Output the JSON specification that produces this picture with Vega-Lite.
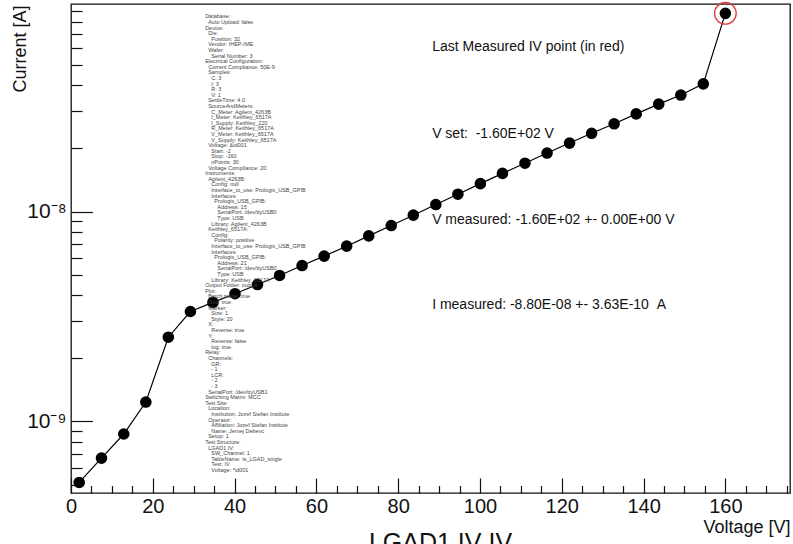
{
  "$schema": "https://vega.github.io/schema/vega-lite/v6.json",
  "width": 719,
  "height": 489,
  "autosize": "none",
  "padding": {"left": 71, "top": 4, "right": 3, "bottom": 51},
  "background": "white",
  "config": {
    "view": {"stroke": "#111", "strokeWidth": 1.3},
    "font": "Liberation Sans"
  },
  "title": {
    "text": "LGAD1 IV IV",
    "orient": "bottom",
    "anchor": "middle",
    "frame": "group",
    "font": "Liberation Sans",
    "fontSize": 25,
    "fontWeight": "normal",
    "color": "#111",
    "baseline": "top",
    "offset": -5,
    "dx": 10
  },
  "resolve": {"axis": {"x": "independent", "y": "independent"}},
  "datasets": {
    "iv": [
      {"V": 2.0, "I": 5.12e-10},
      {"V": 7.45, "I": 6.69e-10},
      {"V": 12.9, "I": 8.71e-10},
      {"V": 18.3, "I": 1.237e-9},
      {"V": 23.8, "I": 2.52e-9},
      {"V": 29.2, "I": 3.34e-9},
      {"V": 34.7, "I": 3.69e-9},
      {"V": 40.1, "I": 4.06e-9},
      {"V": 45.6, "I": 4.49e-9},
      {"V": 51.0, "I": 4.96e-9},
      {"V": 56.5, "I": 5.53e-9},
      {"V": 61.9, "I": 6.13e-9},
      {"V": 67.4, "I": 6.84e-9},
      {"V": 72.8, "I": 7.66e-9},
      {"V": 78.3, "I": 8.58e-9},
      {"V": 83.7, "I": 9.61e-9},
      {"V": 89.2, "I": 1.08e-8},
      {"V": 94.6, "I": 1.21e-8},
      {"V": 100.1, "I": 1.359e-8},
      {"V": 105.5, "I": 1.52e-8},
      {"V": 111.0, "I": 1.70e-8},
      {"V": 116.4, "I": 1.90e-8},
      {"V": 121.9, "I": 2.12e-8},
      {"V": 127.3, "I": 2.36e-8},
      {"V": 132.8, "I": 2.62e-8},
      {"V": 138.2, "I": 2.92e-8},
      {"V": 143.7, "I": 3.25e-8},
      {"V": 149.1, "I": 3.59e-8},
      {"V": 154.6, "I": 4.06e-8},
      {"V": 160.0, "I": 8.8e-8}
    ],
    "notes": [
      {"V": 88.3, "I": 6.065e-8, "label": "Last Measured IV point (in red)"},
      {"V": 88.3, "I": 2.344e-8, "label": "V set:\u00a0\u00a0-1.60E+02 V"},
      {"V": 88.3, "I": 9.13e-9, "label": "V measured: -1.60E+02 +- 0.00E+00 V"},
      {"V": 88.3, "I": 3.594e-9, "label": "I measured: -8.80E-08 +- 3.63E-10\u00a0\u00a0A"}
    ],
    "meta": [
      {"V": 32.8, "I": 8.69e-8, "label": "Database:\n\u200d\u00a0\u00a0Auto Upload: false\nDevice:\n\u200d\u00a0\u00a0Die:\n\u200d\u00a0\u00a0\u00a0\u00a0Position: 32\n\u200d\u00a0\u00a0Vendor: IHEP-IME\n\u200d\u00a0\u00a0Wafer:\n\u200d\u00a0\u00a0\u00a0\u00a0Serial Number: 3\nElectrical Configuration:\n\u200d\u00a0\u00a0Current Compliance: 50E-9\n\u200d\u00a0\u00a0Samples:\n\u200d\u00a0\u00a0\u00a0\u00a0C: 3\n\u200d\u00a0\u00a0\u00a0\u00a0I: 3\n\u200d\u00a0\u00a0\u00a0\u00a0R: 3\n\u200d\u00a0\u00a0\u00a0\u00a0V: 1\n\u200d\u00a0\u00a0SettleTime: 4.0\n\u200d\u00a0\u00a0SourceAndMeters:\n\u200d\u00a0\u00a0\u00a0\u00a0C_Meter: Agilent_4263B\n\u200d\u00a0\u00a0\u00a0\u00a0I_Meter: Keithley_6517A\n\u200d\u00a0\u00a0\u00a0\u00a0I_Supply: Keithley_220\n\u200d\u00a0\u00a0\u00a0\u00a0R_Meter: Keithley_6517A\n\u200d\u00a0\u00a0\u00a0\u00a0V_Meter: Keithley_6517A\n\u200d\u00a0\u00a0\u00a0\u00a0V_Supply: Keithley_6517A\n\u200d\u00a0\u00a0Voltage: &id001\n\u200d\u00a0\u00a0\u00a0\u00a0Start: -2\n\u200d\u00a0\u00a0\u00a0\u00a0Stop: -160\n\u200d\u00a0\u00a0\u00a0\u00a0nPoints: 30\n\u200d\u00a0\u00a0Voltage Compliance: 20\nInstruments:\n\u200d\u00a0\u00a0Agilent_4263B:\n\u200d\u00a0\u00a0\u00a0\u00a0Config: null\n\u200d\u00a0\u00a0\u00a0\u00a0Interface_to_use: Prologix_USB_GPIB\n\u200d\u00a0\u00a0\u00a0\u00a0Interfaces:\n\u200d\u00a0\u00a0\u00a0\u00a0\u00a0\u00a0Prologix_USB_GPIB:\n\u200d\u00a0\u00a0\u00a0\u00a0\u00a0\u00a0\u00a0\u00a0Address: 15\n\u200d\u00a0\u00a0\u00a0\u00a0\u00a0\u00a0\u00a0\u00a0SerialPort: /dev/ttyUSB0\n\u200d\u00a0\u00a0\u00a0\u00a0\u00a0\u00a0\u00a0\u00a0Type: USB\n\u200d\u00a0\u00a0\u00a0\u00a0Library: Agilent_4263B\n\u200d\u00a0\u00a0Keithley_6517A:\n\u200d\u00a0\u00a0\u00a0\u00a0Config:\n\u200d\u00a0\u00a0\u00a0\u00a0\u00a0\u00a0Polarity: positive\n\u200d\u00a0\u00a0\u00a0\u00a0Interface_to_use: Prologix_USB_GPIB\n\u200d\u00a0\u00a0\u00a0\u00a0Interfaces:\n\u200d\u00a0\u00a0\u00a0\u00a0\u00a0\u00a0Prologix_USB_GPIB:\n\u200d\u00a0\u00a0\u00a0\u00a0\u00a0\u00a0\u00a0\u00a0Address: 21\n\u200d\u00a0\u00a0\u00a0\u00a0\u00a0\u00a0\u00a0\u00a0SerialPort: /dev/ttyUSB0\n\u200d\u00a0\u00a0\u00a0\u00a0\u00a0\u00a0\u00a0\u00a0Type: USB\n\u200d\u00a0\u00a0\u00a0\u00a0Library: Keithley_6517A\nOutput Folder: output\nPlot:\n\u200d\u00a0\u00a0Batch mode: true\n\u200d\u00a0\u00a0Grid: true\n\u200d\u00a0\u00a0Marker:\n\u200d\u00a0\u00a0\u00a0\u00a0Size: 1\n\u200d\u00a0\u00a0\u00a0\u00a0Style: 20\n\u200d\u00a0\u00a0X:\n\u200d\u00a0\u00a0\u00a0\u00a0Reverse: true\n\u200d\u00a0\u00a0Y:\n\u200d\u00a0\u00a0\u00a0\u00a0Reverse: false\n\u200d\u00a0\u00a0\u00a0\u00a0log: true\nRelay:\n\u200d\u00a0\u00a0Channels:\n\u200d\u00a0\u00a0\u00a0\u00a0GR:\n\u200d\u00a0\u00a0\u00a0\u00a0- 1\n\u200d\u00a0\u00a0\u00a0\u00a0LCR:\n\u200d\u00a0\u00a0\u00a0\u00a0- 2\n\u200d\u00a0\u00a0\u00a0\u00a0- 3\n\u200d\u00a0\u00a0SerialPort: /dev/ttyUSB1\nSwitching Matrix: MCC\nTest Site:\n\u200d\u00a0\u00a0Location:\n\u200d\u00a0\u00a0\u00a0\u00a0Institution: Jozef Stefan Institute\n\u200d\u00a0\u00a0Operator:\n\u200d\u00a0\u00a0\u00a0\u00a0Affiliation: Jozef Stefan Institute\n\u200d\u00a0\u00a0\u00a0\u00a0Name: Jernej Debevc\n\u200d\u00a0\u00a0Setup: 1\nTest Structure:\n\u200d\u00a0\u00a0LGAD1 IV:\n\u200d\u00a0\u00a0\u00a0\u00a0SW_Channel: 1\n\u200d\u00a0\u00a0\u00a0\u00a0TableName: ts_LGAD_single\n\u200d\u00a0\u00a0\u00a0\u00a0Test: IV\n\u200d\u00a0\u00a0\u00a0\u00a0Voltage: *id001"}
    ]
  },
  "layer": [
    {
      "data": {"name": "iv"},
      "mark": {"type": "line", "color": "#000", "strokeWidth": 1.2},
      "encoding": {
        "x": {
          "field": "V", "type": "quantitative",
          "scale": {"type": "linear", "domain": [0, 175.8], "nice": false, "zero": false},
          "axis": {
            "orient": "bottom",
            "title": "Voltage [V]",
            "titleFont": "Liberation Sans", "titleFontSize": 18, "titleFontWeight": "normal", "titleColor": "#111",
            "titleAnchor": "end", "titleAlign": "right", "titleBaseline": "middle", "titleX": 719, "titleY": 34,
            "values": [0, 20, 40, 60, 80, 100, 120, 140, 160],
            "labelFont": "Liberation Sans", "labelFontSize": 20, "labelColor": "#111",
            "labelPadding": 18, "labelFlush": false, "labelOverlap": false,
            "tickSize": -15, "tickColor": "#111", "tickWidth": 1.2,
            "domain": false, "grid": false
          }
        },
        "y": {
          "field": "I", "type": "quantitative",
          "scale": {"type": "log", "domain": [4.56e-10, 9.75e-8], "nice": false},
          "axis": {
            "orient": "left",
            "title": "Current [A]",
            "titleFont": "Liberation Sans", "titleFontSize": 18, "titleFontWeight": "normal", "titleColor": "#111",
            "titleAnchor": "end", "titleAlign": "right", "titleBaseline": "middle", "titleAngle": -90, "titleX": -51, "titleY": 1,
            "values": [1e-9, 1e-8],
            "labelExpr": "datum.value < 5e-9 ? '10\u207b\u2079' : '10\u207b\u2078'",
            "labelFont": "Liberation Sans", "labelFontSize": 21, "labelColor": "#111",
            "labelPadding": 26.5, "labelFlush": false, "labelOverlap": false,
            "tickSize": -21.5, "tickColor": "#111", "tickWidth": 1.2,
            "domain": false, "grid": false
          }
        }
      }
    },
    {
      "data": {"name": "iv"},
      "mark": {"type": "circle", "color": "#000", "opacity": 1, "size": 135},
      "encoding": {
        "x": {
          "field": "V", "type": "quantitative",
          "axis": {
            "orient": "bottom", "title": null, "labels": false,
            "values": [5, 10, 15, 25, 30, 35, 45, 50, 55, 65, 70, 75, 85, 90, 95, 105, 110, 115, 125, 130, 135, 145, 150, 155, 165, 170, 175],
            "tickSize": -7.5, "tickColor": "#111", "tickWidth": 1.2,
            "domain": false, "grid": false
          }
        },
        "y": {
          "field": "I", "type": "quantitative",
          "axis": {
            "orient": "left", "title": null, "labels": false,
            "values": [5e-10, 6e-10, 7e-10, 8e-10, 9e-10, 2e-9, 3e-9, 4e-9, 5e-9, 6e-9, 7e-9, 8e-9, 9e-9, 2e-8, 3e-8, 4e-8, 5e-8, 6e-8, 7e-8, 8e-8, 9e-8],
            "tickSize": -11, "tickColor": "#111", "tickWidth": 1.2,
            "domain": false, "grid": false
          }
        }
      }
    },
    {
      "data": {"name": "iv"},
      "transform": [{"filter": "datum.V == 160"}],
      "mark": {"type": "point", "shape": "circle", "filled": false, "stroke": "#e03a3a", "strokeWidth": 1.3, "opacity": 1, "size": 470},
      "encoding": {
        "x": {"field": "V", "type": "quantitative", "axis": null},
        "y": {"field": "I", "type": "quantitative", "axis": null}
      }
    },
    {
      "data": {"name": "notes"},
      "mark": {"type": "text", "align": "left", "baseline": "middle", "font": "Liberation Sans", "fontSize": 14, "color": "#111"},
      "encoding": {
        "x": {"field": "V", "type": "quantitative", "axis": null},
        "y": {"field": "I", "type": "quantitative", "axis": null},
        "text": {"field": "label"}
      }
    },
    {
      "data": {"name": "meta"},
      "mark": {"type": "text", "align": "left", "baseline": "top", "font": "Liberation Sans", "fontSize": 5.5, "lineBreak": "\n", "lineHeight": 5.6, "color": "#444"},
      "encoding": {
        "x": {"field": "V", "type": "quantitative", "axis": null},
        "y": {"field": "I", "type": "quantitative", "axis": null},
        "text": {"field": "label"}
      }
    }
  ]
}
